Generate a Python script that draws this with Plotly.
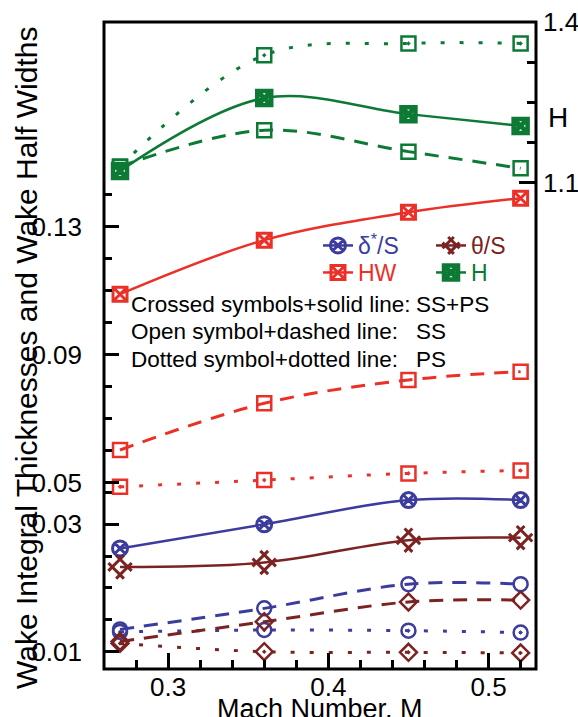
import plotly.graph_objects as go

# Mach number stations
mach = [0.27, 0.36, 0.45, 0.52]

# displacement thickness / pitch
dstar_ss_ps = [0.0262, 0.0300, 0.0338, 0.0338]
dstar_ss = [0.0135, 0.0168, 0.0206, 0.0206]
dstar_ps = [0.0131, 0.0134, 0.0133, 0.0130]

# momentum thickness / pitch
theta_ss_ps = [0.0233, 0.0240, 0.0275, 0.0279]
theta_ss = [0.0116, 0.0147, 0.0178, 0.0181]
theta_ps = [0.0113, 0.0100, 0.0099, 0.0098]

# wake half width
hw_ss_ps = [0.1089, 0.1258, 0.1345, 0.1389]
hw_ss = [0.0602, 0.0748, 0.0821, 0.0847]
hw_ps = [0.0487, 0.0508, 0.0529, 0.0538]

# shape factor
h_ss_ps = [1.122, 1.258, 1.228, 1.206]
h_ss = [1.130, 1.198, 1.158, 1.127]
h_ps = [1.130, 1.338, 1.360, 1.360]

x_ticks = [0.3, 0.4, 0.5]
low_ticks = [0.01, 0.03]
up_ticks = [0.05, 0.09, 0.13]
h_ticks = [1.1, 1.4]

BLUE = "#3c3c9c"
DRED = "#7b2222"
RED = "#ec3028"
GREEN = "#0c7a35"
FONT = "Arial, Liberation Sans, sans-serif"

W, H = 578, 717
# plot frame in pixels
L, R, T, B = 104, 536, 22, 669
SPLIT = 490  # boundary between the two left-axis segments
HBOT = 200   # bottom of the H-axis segment


def px_x(p):
    return p / W


def px_y(p):
    return 1 - p / H


SOLID = "solid"
DASH = "14px,10px"
DOT = "4px,15px"

fig = go.Figure()


def add(y, yaxis, color, dash, symbol, size, lw, name=None, legend=None, angle=0, mlw=None):
    fig.add_trace(go.Scatter(
        x=mach, y=y, yaxis=yaxis, mode="lines+markers",
        line=dict(color=color, width=lw, dash=dash, shape="spline", smoothing=1),
        marker=dict(symbol=symbol, size=size, color=color, angle=angle,
                    line=dict(color=color, width=mlw if mlw else 2.5)),
        cliponaxis=False,
        name=name if name else "",
        showlegend=name is not None,
        legend=legend if legend else "legend",
    ))


# lower left axis: thicknesses
add(dstar_ss, "y", BLUE, DASH, "circle-open", 14, 3)
add(dstar_ps, "y", BLUE, DOT, "circle-open-dot", 14, 3)
add(theta_ss, "y", DRED, DASH, "diamond-open", 13, 3)
add(theta_ps, "y", DRED, DOT, "diamond-open-dot", 13, 3)
add(dstar_ss_ps, "y", BLUE, SOLID, "circle-x-open", 15, 2.5, mlw=3,
    name=f"<span style='color:{BLUE}'>δ<sup>*</sup>/S</span>", legend="legend")
add(theta_ss_ps, "y", DRED, SOLID, "hash-open", 22, 2.5, angle=45, mlw=3,
    name=f"<span style='color:{DRED}'>θ/S</span>", legend="legend")

# upper left axis: half widths
add(hw_ss, "y2", RED, DASH, "square-open", 14, 3)
add(hw_ps, "y2", RED, DOT, "square-open-dot", 14, 3)
add(hw_ss_ps, "y2", RED, SOLID, "square-x-open", 14, 2.5, mlw=3,
    name=f"<span style='color:{RED}'>HW</span>", legend="legend2")

# right axis: shape factor
add(h_ss, "y3", GREEN, DASH, "square-open", 14, 3)
add(h_ps, "y3", GREEN, DOT, "square-open-dot", 14, 3)
add(h_ss_ps, "y3", GREEN, SOLID, "square-x-open", 14, 2.5, mlw=4.5,
    name=f"<span style='color:{GREEN}'>H</span>", legend="legend2")

tickfont = dict(family=FONT, size=26, color="black")
common = dict(showgrid=False, zeroline=False, showline=False, ticks="inside",
              tickcolor="black", tickwidth=3, tickfont=tickfont, automargin=False)

fig.update_layout(
    width=W, height=H, autosize=False,
    margin=dict(l=0, r=0, t=0, b=0, pad=0),
    template="none",
    paper_bgcolor="white", plot_bgcolor="rgba(0,0,0,0)",
    font=dict(family=FONT, color="black"),
    xaxis=dict(domain=[px_x(L), px_x(R)], range=[0.26, 0.5296], anchor="y",
               tickmode="array", tickvals=x_ticks, ticktext=[f"{v:.1f}" for v in x_ticks],
               ticklen=16, ticklabelstandoff=0,
               minor=dict(tickmode="array", tickvals=[0.28, 0.32, 0.34, 0.36, 0.38, 0.42,
                                                     0.44, 0.46, 0.48, 0.52],
                          ticks="inside", ticklen=9, tickwidth=3, tickcolor="black"),
               **common),
    yaxis=dict(domain=[px_y(B), px_y(SPLIT)], range=[0.00728, 0.03538], anchor="x",
               tickmode="array", tickvals=low_ticks, ticktext=[f"{v:.2f}" for v in low_ticks],
               ticklen=15, ticklabelstandoff=21,
               minor=dict(tickmode="array", tickvals=[0.015, 0.02, 0.025, 0.035],
                          ticks="inside", ticklen=8, tickwidth=3, tickcolor="black"),
               **common),
    yaxis2=dict(domain=[px_y(SPLIT), px_y(T)], range=[0.04771, 0.19397], anchor="x",
                tickmode="array", tickvals=up_ticks, ticktext=[f"{v:.2f}" for v in up_ticks],
                ticklen=15, ticklabelstandoff=21,
                minor=dict(tickmode="array", tickvals=[0.06, 0.07, 0.08, 0.10, 0.11, 0.12, 0.14],
                           ticks="inside", ticklen=8, tickwidth=3, tickcolor="black"),
                **common),
    yaxis3=dict(domain=[px_y(HBOT), px_y(T)], range=[1.0677, 1.4], anchor="x", side="right",
                tickmode="array", tickvals=h_ticks, ticktext=[f"{v:.1f}" for v in h_ticks],
                ticklen=17, ticklabelstandoff=6,
                minor=dict(tickmode="array", tickvals=[1.175, 1.25, 1.325],
                           ticks="inside", ticklen=9, tickwidth=3, tickcolor="black"),
                **common),
    legend=dict(orientation="h", x=px_x(318), y=px_y(224), xanchor="left", yanchor="top",
                bgcolor="rgba(0,0,0,0)", borderwidth=0, font=dict(family=FONT, size=23),
                entrywidth=68, entrywidthmode="pixels", itemclick=False, tracegroupgap=0),
    legend2=dict(orientation="h", x=px_x(318), y=px_y(251), xanchor="left", yanchor="top",
                 bgcolor="rgba(0,0,0,0)", borderwidth=0, font=dict(family=FONT, size=23),
                 entrywidth=68, entrywidthmode="pixels", itemclick=False, tracegroupgap=0),
)

# plot frame
fig.add_shape(type="rect", xref="paper", yref="paper",
              x0=px_x(L), x1=px_x(R), y0=px_y(B), y1=px_y(T),
              line=dict(color="black", width=3), layer="above")

# axis titles
fig.add_annotation(text="Wake Integral Thicknesses and Wake Half Widths", textangle=-90,
                   xref="paper", yref="paper", x=px_x(26), y=px_y(358),
                   xanchor="center", yanchor="middle", showarrow=False,
                   font=dict(family=FONT, size=30, color="black"))
fig.add_annotation(text="Mach Number, M", xref="paper", yref="paper",
                   x=px_x(320), y=px_y(692), xanchor="center", yanchor="top", showarrow=False,
                   font=dict(family=FONT, size=27, color="black"))
fig.add_annotation(text="H", xref="paper", yref="paper", x=px_x(546), y=px_y(100),
                   xanchor="left", showarrow=False,
                   font=dict(family=FONT, size=28, color="black"))

# line style key
key_left = ["Crossed symbols+solid line:", "Open symbol+dashed line:", "Dotted symbol+dotted line:"]
key_right = ["SS+PS", "SS", "PS"]
key_rows = [304, 331.5, 359]
for a, b, yy in zip(key_left, key_right, key_rows):
    fig.add_annotation(text=a, xref="paper", yref="paper", x=px_x(129), y=px_y(yy),
                       xanchor="left", showarrow=False,
                       font=dict(family=FONT, size=22.5, color="black"))
    fig.add_annotation(text=b, xref="paper", yref="paper", x=px_x(414), y=px_y(yy),
                       xanchor="left", showarrow=False,
                       font=dict(family=FONT, size=22.5, color="black"))

fig.write_html("out.html")
